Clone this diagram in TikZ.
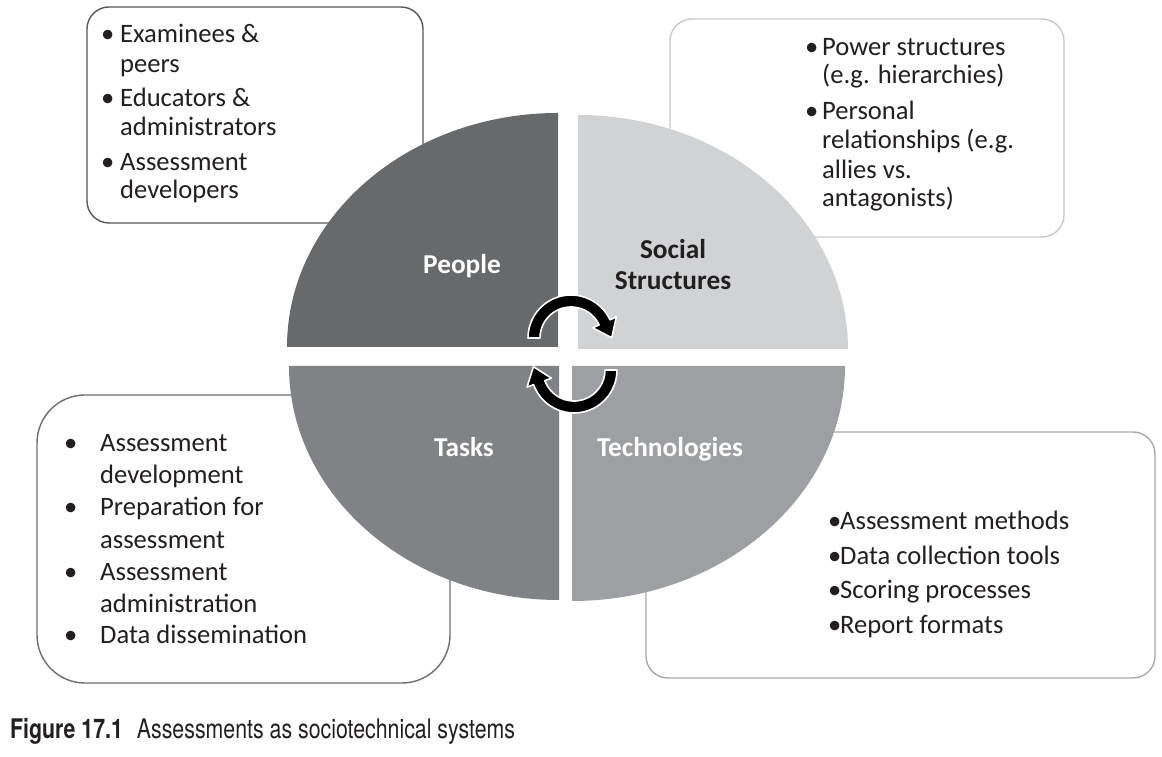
\documentclass[tikz,border=0pt]{standalone}
\usepackage{fontspec}
\setmainfont{Carlito}
\newfontfamily\capfont[FakeStretch=0.79]{TeX Gyre Heros}
\usetikzlibrary{calc}
\definecolor{cPeople}{HTML}{68696B}
\definecolor{cSocial}{HTML}{D1D2D4}
\definecolor{cTasks}{HTML}{808285}
\definecolor{cTech}{HTML}{9D9FA2}
\definecolor{txt}{HTML}{231F20}
\definecolor{bTL}{HTML}{58595B}
\definecolor{bTR}{HTML}{C7C8CA}
\definecolor{bBL}{HTML}{6D6E70}
\definecolor{bBR}{HTML}{A7A9AC}
\begin{document}
\begin{tikzpicture}[x=1pt,y=1pt,
  box/.style={fill=white, line width=1.4pt},
  itm/.style={anchor=base west, inner sep=0pt, text=txt, font=\fontsize{26.6}{29}\selectfont},
  lbl/.style={anchor=base, inner sep=0pt, font=\bfseries\fontsize{27.3}{31}\selectfont},
  arr/.style={fill=black, draw=white, line width=1.6pt, line join=round}]
\useasboundingbox (0,0) rectangle (1162,757);
\fill[white] (0,0) rectangle (1162,757);

% boxes
\draw[box, draw=bTL, rounded corners=22pt] (87,534) rectangle (423,750);
\draw[box, draw=bTR, rounded corners=22pt] (670,520) rectangle (1064,738);
\draw[box, draw=bBL, rounded corners=48pt] (37,74) rectangle (450,362);
\draw[box, draw=bBR, rounded corners=22pt] (646,79) rectangle (1155,325);

% quadrants
\fill[cPeople] (558,410) -- (287,410) arc[start angle=180,end angle=90,x radius=271pt,y radius=234pt] -- cycle;
\fill[cSocial] (578,408) -- (578,642) arc[start angle=90,end angle=0,x radius=270pt,y radius=234pt] -- cycle;
\fill[cTasks] (559,391) -- (289,391) arc[start angle=180,end angle=270,x radius=270pt,y radius=234pt] -- cycle;
\fill[cTech] (572,391) -- (845,391) arc[start angle=0,end angle=-90,x radius=273pt,y radius=235pt] -- cycle;

% arrows
\coordinate (C1) at (571,419);
\coordinate (C2) at (574,387);
\path[arr] ($(C1)+(180:43)$) arc[start angle=180,end angle=25,radius=43pt]
  -- ($(C1)+(25:50)$) -- ($(C1)+(25:37)+(-65:17)$) -- ($(C1)+(25:24)$)
  -- ($(C1)+(25:31)$) arc[start angle=25,end angle=180,radius=31pt] -- cycle;
\path[arr] ($(C2)+(0:43)$) arc[start angle=0,end angle=-160,radius=43pt]
  -- ($(C2)+(-160:50)$) -- ($(C2)+(-160:37)+(110:17)$) -- ($(C2)+(-160:24)$)
  -- ($(C2)+(-160:31)$) arc[start angle=-160,end angle=0,radius=31pt] -- cycle;

% labels
\node[lbl, text=white] (people) at (462,483) {People};
\node[lbl, text=txt] (social) at (673,498) {Social};
\node[lbl, text=txt] (structures) at (673,467) {Structures};
\node[lbl, text=white] (tasks) at (464,300) {Tasks};
\node[lbl, text=white] (technologies) at (670,300) {Technologies};

% top-left box
\node[itm] (tlb1) at (101,714) {•};
\node[itm] (tl1) at (120,714) {Examinees \&};
\node[itm] (tl2) at (120,684) {peers};
\node[itm] (tlb2) at (101,650) {•};
\node[itm] (tl3) at (120,650) {Educators \&};
\node[itm] (tl4) at (120,621) {administrators};
\node[itm] (tlb3) at (101,586) {•};
\node[itm] (tl5) at (120,586) {Assessment};
\node[itm] (tl6) at (120,558) {developers};

% top-right box
\node[itm] (trb1) at (805,701) {•};
\node[itm] (tr1) at (822,701) {Power structures};
\node[itm] (tr2) at (822,673) {(e.g. hierarchies)};
\node[itm] (trb2) at (805,637) {•};
\node[itm] (tr3) at (822,637) {Personal};
\node[itm] (tr4) at (822,608) {relationships (e.g.};
\node[itm] (tr5) at (822,578) {allies vs.};
\node[itm] (tr6) at (822,550) {antagonists)};

% bottom-left box
\node[itm] (blb1) at (64,305) {•};
\node[itm] (bl1) at (100,305) {Assessment};
\node[itm] (bl2) at (100,273) {development};
\node[itm] (blb2) at (64,241) {•};
\node[itm] (bl3) at (100,241) {Preparation for};
\node[itm] (bl4) at (100,208) {assessment};
\node[itm] (blb3) at (64,176) {•};
\node[itm] (bl5) at (100,176) {Assessment};
\node[itm] (bl6) at (100,144) {administration};
\node[itm] (blb4) at (64,113) {•};
\node[itm] (bl7) at (100,113) {Data dissemination};

% bottom-right box
\node[itm] (brb1) at (828,227) {•};
\node[itm] (br1) at (840,227) {Assessment methods};
\node[itm] (brb2) at (828,192) {•};
\node[itm] (br2) at (840,192) {Data collection tools};
\node[itm] (brb3) at (828,158) {•};
\node[itm] (br3) at (840,158) {Scoring processes};
\node[itm] (brb4) at (828,123) {•};
\node[itm] (br4) at (840,123) {Report formats};

% caption
\node[anchor=base west, inner sep=0pt, text=txt, font=\capfont\fontsize{27}{30}\selectfont] (caption) at (10,18)
  {\textbf{Figure 17.1}\hspace{14pt}Assessments as sociotechnical systems};
\end{tikzpicture}
\end{document}
